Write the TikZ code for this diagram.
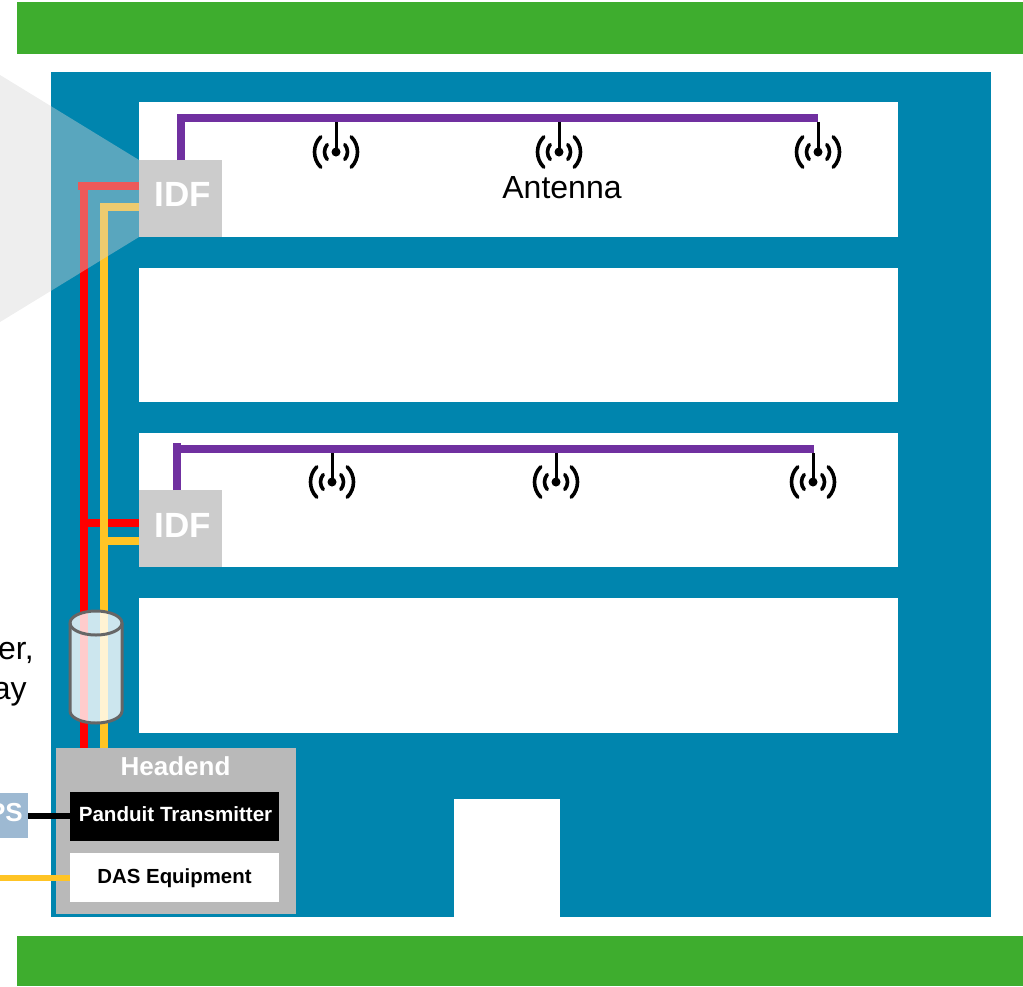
\documentclass[tikz,border=0pt]{standalone}
\usepackage{fontspec}
\setmainfont{Liberation Sans}
\newdimen\px \px=0.75pt
\definecolor{bandgreen}{HTML}{3EAD2E}
\definecolor{floorblue}{HTML}{0085AE}
\definecolor{idfgray}{HTML}{CCCCCC}
\definecolor{headgray}{HTML}{B9B9B9}
\definecolor{psblue}{HTML}{9DB9D2}
\definecolor{cablepurple}{HTML}{7030A0}
\definecolor{cableyellow}{HTML}{FFC425}
\definecolor{cylgray}{HTML}{666666}
\definecolor{wedge}{HTML}{D6D6D6}
\tikzset{
  x=0.75pt,y=-0.75pt,
  area/.style={rectangle,inner sep=0pt,outer sep=0pt,minimum width=#1\px},
  high/.style={minimum height=#1\px},
  fs/.style={inner sep=0pt,font=\fontsize{#1\px}{#1\px}\selectfont},
  fsb/.style={inner sep=0pt,font=\fontsize{#1\px}{#1\px}\selectfont\bfseries},
  red cable/.style={draw=red,line width=8\px},
  yellow cable/.style={draw=cableyellow,line width=8\px},
  purple cable/.style={draw=cablepurple,line width=8\px},
  stem/.style={draw=black,line width=3\px},
  wave/.style={draw=black,line width=3.6\px,line cap=round},
  pics/antenna/.style={code={
    \fill[black] (0,0) circle[radius=4.5];
    \draw[wave] (11.5*cos 40,11.5*sin 40) arc[start angle=40,end angle=-40,radius=11.5];
    \draw[wave] (-11.5*cos 40,11.5*sin 40) arc[start angle=140,end angle=220,radius=11.5];
    \draw[wave] (21.5*cos 45,21.5*sin 45) arc[start angle=45,end angle=-45,radius=21.5];
    \draw[wave] (-21.5*cos 45,21.5*sin 45) arc[start angle=135,end angle=225,radius=21.5];
  }}
}
\begin{document}
\begin{tikzpicture}
\useasboundingbox (0,0) rectangle (1023,986);
\clip (0,0) rectangle (1023,986);
% bands and floor plan
\node[area=1006,high=52,fill=bandgreen] (bandtop) at (520,28) {};
\node[area=1006,high=50,fill=bandgreen] (bandbottom) at (520,961) {};
\node[area=940,high=845,fill=floorblue] (floor) at (521,494.5) {};
\node[area=759,high=135,fill=white] (room1) at (518.5,169.5) {};
\node[area=759,high=134,fill=white] (room2) at (518.5,335) {};
\node[area=759,high=134,fill=white] (room3) at (518.5,500) {};
\node[area=759,high=135,fill=white] (room4) at (518.5,665.5) {};
\node[area=106,high=118,fill=white] (door) at (507,858) {};
% nodes that cables attach to
\node[area=83,high=77,fill=idfgray] (idfa) at (180.5,198.5) {};
\node[area=83,high=77,fill=idfgray] (idfb) at (180.5,528.5) {};
\node[area=240,high=166,fill=headgray] (headend) at (176,831) {};
\coordinate (redtop) at (78,186);
\coordinate (yellowtop) at (100,207);
\coordinate (redturn) at (84,186);
\coordinate (yellowturn) at (104,207);
\coordinate (redbottom) at (84,748);
\coordinate (yellowbottom) at (104,748);
\coordinate (redjoin) at (84,523);
\coordinate (yellowjoin) at (104,541);
% feed cables
\draw[red cable] (redbottom) -- (redturn);
\draw[red cable] (redtop) -- (139,186);
\draw[red cable] (redjoin) -- (139,523);
\draw[yellow cable] (yellowbottom) -- (yellowturn);
\draw[yellow cable] (yellowtop) -- (139,207);
\draw[yellow cable] (yellowjoin) -- (139,541);
% purple runs
\coordinate (purpleAstart) at (177,118);
\coordinate (purpleAend) at (818,118);
\coordinate (purpleBstart) at (173,449);
\coordinate (purpleBend) at (814,449);
\draw[purple cable] (181,160) -- (181,114);
\draw[purple cable] (purpleAstart) -- (purpleAend);
\draw[purple cable] (177,490) -- (177,443);
\draw[purple cable] (purpleBstart) -- (purpleBend);
% antennas
\foreach \n/\ax/\ay/\ty in {a/336/152/122,b/559/152/122,c/818/152/122,d/332/482/453,e/556/482/453,f/813/482/453}{
  \coordinate (ant\n) at (\ax,\ay);
  \pic at (ant\n) {antenna};
  \draw[stem] (ant\n) -- (\ax,\ty);
}
\node[fs=32,anchor=center] (antennalabel) at (562,188) {Antenna};
% translucent wedge
\fill[wedge,fill opacity=0.42] (0,75) -- (139,160) -- (139,237) -- (0,322) -- cycle;
\node[fsb=35,text=white] (idfatext) at (182.5,194) {IDF};
\node[fsb=35,text=white] (idfbtext) at (182.5,525) {IDF};
% cylinder
\path[fill=white,fill opacity=0.8] (70,623) arc[x radius=26,y radius=12,start angle=180,end angle=360] -- (122,711) arc[x radius=26,y radius=12,start angle=0,end angle=180] -- cycle;
\draw[cylgray,line width=3\px,line join=round] (70,623) arc[x radius=26,y radius=12,start angle=180,end angle=360] -- (122,711) arc[x radius=26,y radius=12,start angle=0,end angle=180] -- cycle;
\draw[cylgray,line width=3\px] (70,623) arc[x radius=26,y radius=12,start angle=180,end angle=0];
% headend contents
\node[fsb=26,text=white] (headtext) at (175.5,766) {Headend};
\node[area=209,high=49,fill=black] (panduit) at (174.5,816.5) {};
\node[area=209,high=49,fill=white] (das) at (174.5,877.5) {};
\node[fsb=20.6,text=white] (pandtext) at (175.5,814) {Panduit Transmitter};
\node[fsb=20.4,text=black] (dastext) at (174.5,878) {DAS Equipment};
\node[area=28,high=45,fill=psblue] (ps) at (14,815.5) {};
\node[fsb=26,text=white,anchor=east] (pstext) at (23,812.5) {PS};
\coordinate (dasfeed) at (0,878);
\draw[black,line width=6\px] (ps.east) -- (ps.east -| panduit.west);
\draw[cableyellow,line width=6\px] (dasfeed) -- (dasfeed -| das.west);
% clipped side text
\node[fs=32,anchor=base east] (sidea) at (34,659) {er,};
\node[fs=32,anchor=base east] (sideb) at (27,699) {ay};
\end{tikzpicture}
\end{document}
